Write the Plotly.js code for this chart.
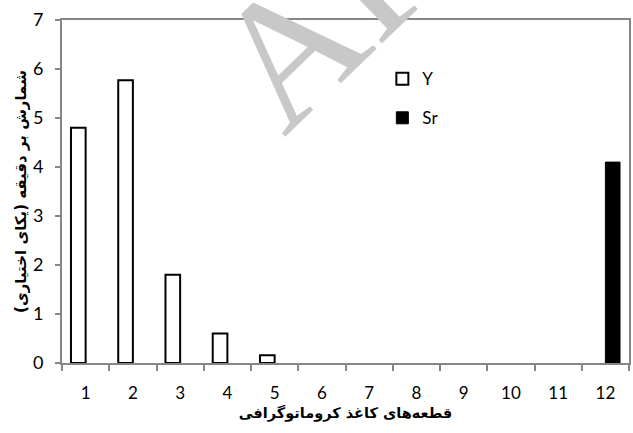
<!DOCTYPE html>
<html>
<head>
<meta charset="utf-8">
<script src="https://cdn.plot.ly/plotly-3.0.1.min.js"></script>
<style>html,body{margin:0;padding:0;background:#fff;}#chart{width:633px;height:433px;}</style>
</head>
<body>
<div id="chart"></div>
<script>
const categories = ["1","2","3","4","5","6","7","8","9","10","11","12"];
const yValues  = [4.8, 5.77, 1.8, 0.6, 0.16, null, null, null, null, null, null, null];
const srValues = [null, null, null, null, null, null, null, null, null, null, null, 4.1];
const seriesNames = ["Y", "Sr"];
const yTickVals = [0,1,2,3,4,5,6,7];
const xTitle = "قطعه‌های کاغذ کروماتوگرافی";
const yTitle = "شمارش بر دقیقه (یکای اختیاری)";

const traces = [
  {type:"bar", name:seriesNames[0], x:categories, y:yValues, legendgroup:"a",
   marker:{color:"#ffffff", line:{color:"#000000", width:2}}, hoverinfo:"x+y"},
  {type:"bar", name:seriesNames[1], x:categories, y:srValues, legendgroup:"b",
   marker:{color:"#000000", line:{color:"#000000", width:1}}, hoverinfo:"x+y"}
];

const layout = {
  width:633, height:433,
  margin:{l:62, r:4, t:20, b:70},
  paper_bgcolor:"#ffffff", plot_bgcolor:"#ffffff",
  barmode:"group", bargap:0.38, bargroupgap:0,
  showlegend:true,
  legend:{x:0.565, y:0.88, xanchor:"left", yanchor:"top", bgcolor:"rgba(0,0,0,0)",
          font:{family:"Lato, 'Liberation Sans', sans-serif", size:17, color:"#000"},
          tracegroupgap:14, itemwidth:30},
  xaxis:{type:"category", tickson:"boundaries", ticks:"outside", ticklen:6, tickwidth:2,
         tickcolor:"#868686", showline:true, linecolor:"#868686", linewidth:2, mirror:true,
         showgrid:false, zeroline:false, ticklabelstandoff:14,
         tickfont:{family:"Lato, 'Liberation Sans', sans-serif", size:17, color:"#000"},
         title:{text:xTitle, standoff:5, font:{family:"'DejaVu Sans', sans-serif", size:14.5, color:"#000", weight:"bold"}}},
  yaxis:{range:[0,7], tickvals:yTickVals, ticks:"outside", ticklen:5, tickwidth:2,
         tickcolor:"#868686", showline:true, linecolor:"#868686", linewidth:2, mirror:true,
         showgrid:false, zeroline:false, ticklabelstandoff:8,
         tickfont:{family:"Lato, 'Liberation Sans', sans-serif", size:18, color:"#000"},
         title:{text:yTitle, standoff:3, font:{family:"'DejaVu Sans', sans-serif", size:15, color:"#000", weight:"bold"}}},
  annotations:[{text:"AP", xref:"paper", yref:"paper", x:0.464, y:1.015, xanchor:"center", yanchor:"middle",
                showarrow:false, textangle:-44,
                font:{family:"'Liberation Serif', serif", size:180, color:"rgb(200,200,200)"}}]
};

Plotly.newPlot("chart", traces, layout, {displayModeBar:false, staticPlot:true});
</script>
</body>
</html>
